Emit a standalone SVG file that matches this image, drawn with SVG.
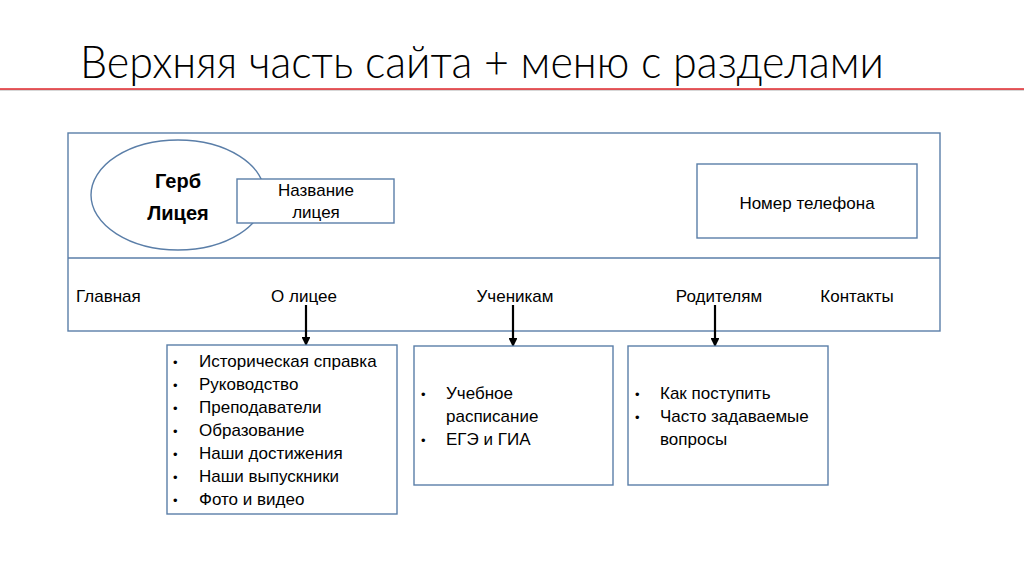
<svg xmlns="http://www.w3.org/2000/svg" width="1024" height="574" viewBox="0 0 1024 574">
<style>
.box{fill:#fff;stroke:#5a7ea8;stroke-width:1.4}
.t{font-family:"Liberation Sans",Arial,sans-serif;font-size:17px;fill:#000}
.c{text-anchor:middle}
.b{font-weight:bold;font-size:20px}
.bl{font-size:13px}
.con{stroke:#000;stroke-width:2.2;fill:none}
</style>
<defs>
<marker id="ah" viewBox="0 0 10 10" refX="9" refY="5" markerWidth="4" markerHeight="4" orient="auto" markerUnits="strokeWidth">
<path d="M0,0 L10,5 L0,10 z" fill="#000"/>
</marker>
</defs>
<rect width="1024" height="574" fill="#fff"/>
<text x="80" y="78" font-family="Lato,'Liberation Sans',Arial,sans-serif" font-weight="300" font-size="46" fill="#000" textLength="804" lengthAdjust="spacingAndGlyphs">Верхняя часть сайта + меню с разделами</text>
<line x1="0" y1="90" x2="1024" y2="90" stroke="#b0b0b0" stroke-width="1"/>
<line x1="0" y1="89" x2="1024" y2="89" stroke="#e0262b" stroke-width="1.5"/>

<g id="header">
<rect class="box" x="68" y="133" width="872" height="198"/>
<line x1="68" y1="258" x2="940" y2="258" stroke="#5a7ea8" stroke-width="1.4"/>
</g>
<g id="gerb">
<ellipse class="box" cx="178" cy="195" rx="87" ry="55"/>
<text class="t c b" x="178" y="188">Герб</text>
<text class="t c b" x="178" y="220">Лицея</text>
</g>
<g id="name">
<rect class="box" x="237" y="179" width="157" height="44"/>
<text class="t c" x="316" y="196">Название</text>
<text class="t c" x="316" y="218">лицея</text>
</g>
<g id="phone">
<rect class="box" x="697" y="164" width="220" height="74"/>
<text class="t c" x="807" y="209">Номер телефона</text>
</g>
<g id="menu">
<text class="t" x="76" y="302">Главная</text>
<text class="t c" x="304" y="302">О лицее</text>
<text class="t c" x="515" y="302">Ученикам</text>
<text class="t c" x="719" y="302">Родителям</text>
<text class="t c" x="857" y="302">Контакты</text>
</g>
<g id="connectors">
<line class="con" x1="306" y1="305" x2="306" y2="345" marker-end="url(#ah)"/>
<line class="con" x1="513" y1="305" x2="513" y2="346" marker-end="url(#ah)"/>
<line class="con" x1="715" y1="305" x2="715" y2="346" marker-end="url(#ah)"/>
</g>
<g id="about">
<rect class="box" x="167" y="345" width="230" height="169"/>
<g class="t">
<text class="bl" x="173" y="367">•</text><text x="199" y="367">Историческая справка</text>
<text class="bl" x="173" y="390">•</text><text x="199" y="390">Руководство</text>
<text class="bl" x="173" y="413">•</text><text x="199" y="413">Преподаватели</text>
<text class="bl" x="173" y="436">•</text><text x="199" y="436">Образование</text>
<text class="bl" x="173" y="459">•</text><text x="199" y="459">Наши достижения</text>
<text class="bl" x="173" y="482">•</text><text x="199" y="482">Наши выпускники</text>
<text class="bl" x="173" y="505">•</text><text x="199" y="505">Фото и видео</text>
</g>
</g>
<g id="students">
<rect class="box" x="414" y="346" width="199" height="139"/>
<g class="t">
<text class="bl" x="421" y="399">•</text><text x="446" y="399">Учебное</text>
<text x="446" y="422">расписание</text>
<text class="bl" x="421" y="445">•</text><text x="446" y="445">ЕГЭ и ГИА</text>
</g>
</g>
<g id="parents">
<rect class="box" x="628" y="346" width="200" height="139"/>
<g class="t">
<text class="bl" x="635" y="399">•</text><text x="660" y="399">Как поступить</text>
<text class="bl" x="635" y="422">•</text><text x="660" y="422">Часто задаваемые</text>
<text x="660" y="445">вопросы</text>
</g>
</g>
</svg>
